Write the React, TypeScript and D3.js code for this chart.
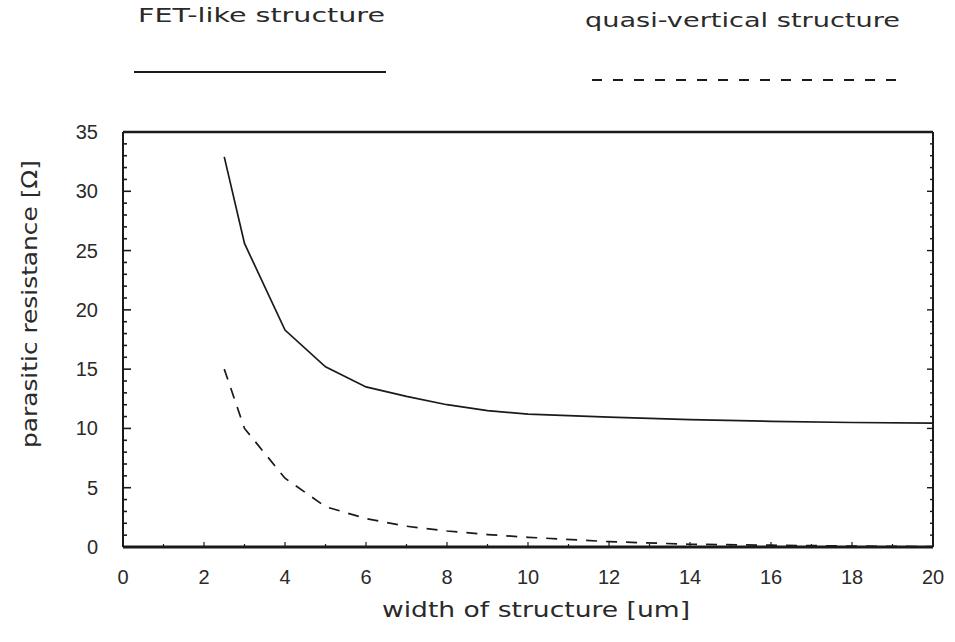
import * as d3 from "d3";
import { useEffect, useRef } from "react";

const width = 955;
const height = 642;
const margin = { top: 132, right: 22, bottom: 95, left: 123 };

// width of structure [um]
const widthsFet = [2.5, 3, 4, 5, 6, 7, 8, 9, 10, 12, 14, 16, 18, 20];
const fetResistance = [32.9, 25.6, 18.3, 15.2, 13.5, 12.7, 12.0, 11.5, 11.2, 10.95, 10.75, 10.6, 10.5, 10.45];

const widthsQuasi = [2.5, 3, 4, 5, 6, 7, 8, 9, 10, 12, 14, 16, 18, 20];
const quasiResistance = [15.0, 10.0, 5.8, 3.4, 2.4, 1.75, 1.35, 1.05, 0.82, 0.45, 0.23, 0.15, 0.08, 0.03];

const xTicks = [0, 2, 4, 6, 8, 10, 12, 14, 16, 18, 20];
const yTicks = [0, 5, 10, 15, 20, 25, 30, 35];

const legendLabels = ["FET-like structure", "quasi-vertical structure"];

const numFont = "'Liberation Sans', Arial, sans-serif";
const labelFont = "'DejaVu Sans', sans-serif";
const ink = "#1a1a1a";
const textInk = "#2a2a2a";

export default function App() {
  const svgRef = useRef<SVGSVGElement>(null);

  useEffect(() => {
    const svg = d3.select(svgRef.current);
    svg.selectAll("*").remove();

    const x = d3.scaleLinear().domain([0, 20]).range([margin.left, width - margin.right]);
    const y = d3.scaleLinear().domain([0, 35]).range([height - margin.bottom, margin.top]);

    const x0 = x(0), x1 = x(20), y0 = y(0), y1 = y(35);

    // frame
    svg.append("line").attr("x1", x0).attr("x2", x1).attr("y1", y1).attr("y2", y1)
      .attr("stroke", ink).attr("stroke-width", 2.6);
    svg.append("line").attr("x1", x0).attr("x2", x1).attr("y1", y0).attr("y2", y0)
      .attr("stroke", ink).attr("stroke-width", 2.8);
    svg.append("line").attr("x1", x0).attr("x2", x0).attr("y1", y1).attr("y2", y0)
      .attr("stroke", ink).attr("stroke-width", 2);
    svg.append("line").attr("x1", x1).attr("x2", x1).attr("y1", y1).attr("y2", y0)
      .attr("stroke", ink).attr("stroke-width", 2);

    // y ticks, every 1 unit, longer at multiples of 5
    const gy = svg.append("g");
    d3.range(1, 35).forEach(v => {
      const major = v % 5 === 0;
      gy.append("line").attr("x1", x0).attr("x2", x0 + (major ? 8 : 4))
        .attr("y1", y(v)).attr("y2", y(v)).attr("stroke", ink).attr("stroke-width", 1.6);
      gy.append("line").attr("x1", x1).attr("x2", x1 - (major ? 6 : 3))
        .attr("y1", y(v)).attr("y2", y(v)).attr("stroke", ink).attr("stroke-width", 1.4);
    });

    // x ticks, every 1 unit, longer at even values
    const gx = svg.append("g");
    d3.range(1, 20).forEach(v => {
      const major = v % 2 === 0;
      gx.append("line").attr("x1", x(v)).attr("x2", x(v))
        .attr("y1", y0).attr("y2", y0 - (major ? 5 : 3))
        .attr("stroke", ink).attr("stroke-width", 1.2);
    });

    // tick labels
    svg.append("g").selectAll("text").data(xTicks).enter().append("text")
      .attr("x", d => x(d)).attr("y", 584)
      .attr("text-anchor", "middle")
      .style("font-family", numFont).style("font-size", "20px").style("fill", textInk)
      .text(d => d);

    svg.append("g").selectAll("text").data(yTicks).enter().append("text")
      .attr("x", 98).attr("y", d => y(d) + 7)
      .attr("text-anchor", "end")
      .style("font-family", numFont).style("font-size", "20px").style("fill", textInk)
      .text(d => d);

    // axis titles
    svg.append("text")
      .attr("x", 382).attr("y", 617)
      .attr("textLength", 308).attr("lengthAdjust", "spacingAndGlyphs")
      .style("font-family", labelFont).style("font-size", "21px").style("fill", textInk)
      .text("width of structure [um]");

    svg.append("text")
      .attr("transform", `translate(37, 448) rotate(-90)`)
      .attr("textLength", 288).attr("lengthAdjust", "spacingAndGlyphs")
      .style("font-family", labelFont).style("font-size", "21px").style("fill", textInk)
      .text("parasitic resistance [Ω]");

    // curves
    const line = d3.line<[number, number]>().x(d => x(d[0])).y(d => y(d[1]));

    svg.append("path")
      .datum(widthsFet.map((w, i) => [w, fetResistance[i]] as [number, number]))
      .attr("d", line)
      .attr("fill", "none").attr("stroke", ink).attr("stroke-width", 1.7);

    svg.append("path")
      .datum(widthsQuasi.map((w, i) => [w, quasiResistance[i]] as [number, number]))
      .attr("d", line)
      .attr("fill", "none").attr("stroke", ink).attr("stroke-width", 1.7)
      .attr("stroke-dasharray", "11 9");

    // legend
    svg.append("text").attr("x", 138).attr("y", 22)
      .attr("textLength", 247).attr("lengthAdjust", "spacingAndGlyphs")
      .style("font-family", labelFont).style("font-size", "20px").style("fill", textInk)
      .text(legendLabels[0]);
    svg.append("line").attr("x1", 134).attr("x2", 386).attr("y1", 72).attr("y2", 72)
      .attr("stroke", ink).attr("stroke-width", 2);

    svg.append("text").attr("x", 585).attr("y", 27)
      .attr("textLength", 315).attr("lengthAdjust", "spacingAndGlyphs")
      .style("font-family", labelFont).style("font-size", "20px").style("fill", textInk)
      .text(legendLabels[1]);
    svg.append("line").attr("x1", 592).attr("x2", 907).attr("y1", 80).attr("y2", 80)
      .attr("stroke", ink).attr("stroke-width", 2)
      .attr("stroke-dasharray", "10 11");
  }, []);

  return (
    <svg
      ref={svgRef}
      width={width}
      height={height}
      style={{ position: "absolute", left: 0, top: 0, background: "#fff" }}
    />
  );
}
